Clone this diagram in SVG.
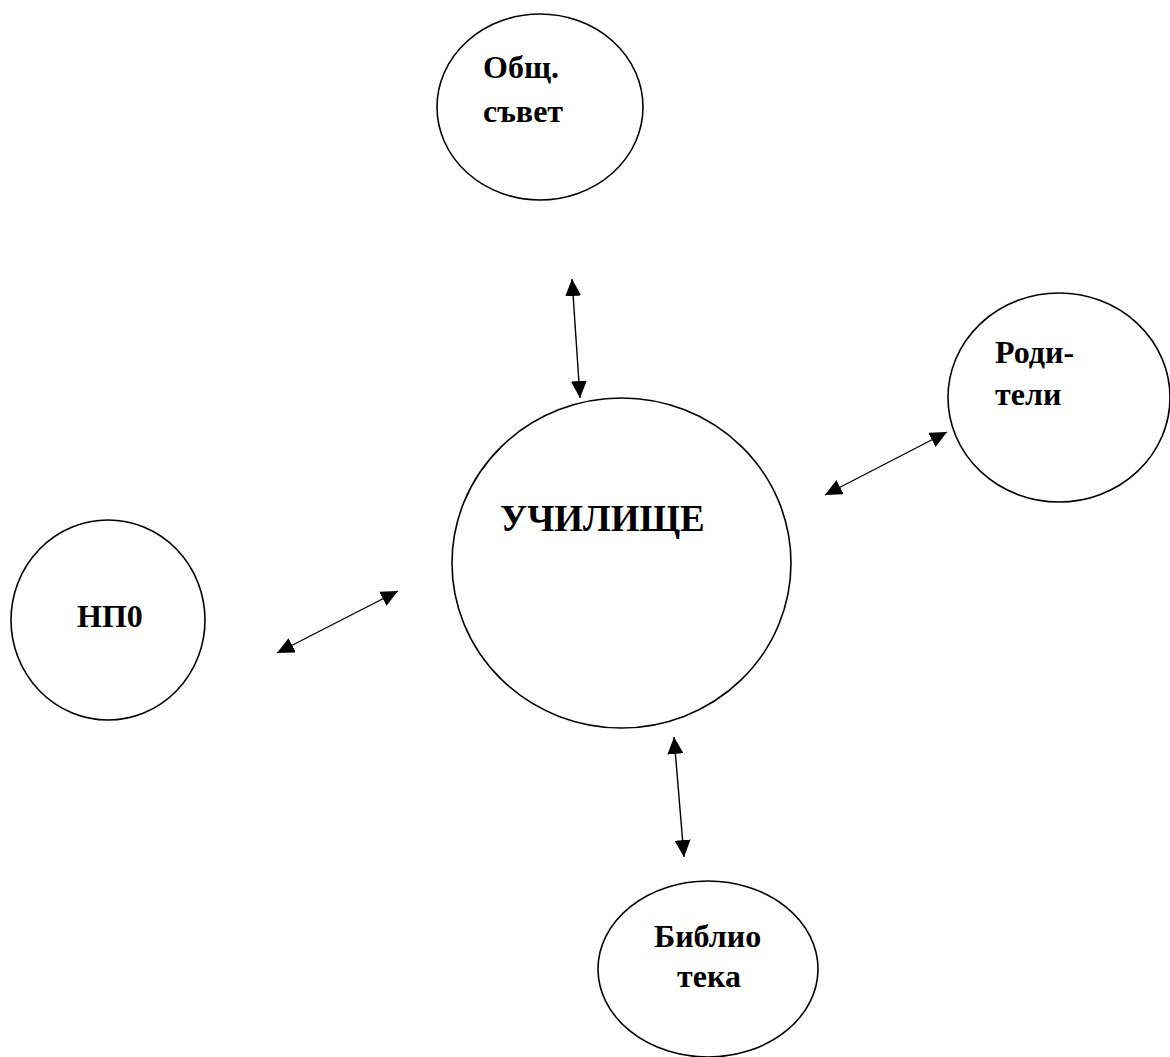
<svg xmlns="http://www.w3.org/2000/svg" width="1170" height="1057" viewBox="0 0 1170 1057">
<style>
.node{fill:#fff;stroke:#000;stroke-width:1.6}
.lbl{font-family:"Liberation Serif","Times New Roman",serif;font-weight:bold;font-size:32px;fill:#000}
.big{font-size:37px}
.conn{stroke:#000;stroke-width:1.4;fill:none;marker-start:url(#ah);marker-end:url(#ah)}
</style>
<defs>
<marker id="ah" markerUnits="userSpaceOnUse" markerWidth="17" markerHeight="16" refX="17" refY="8" orient="auto-start-reverse">
<path d="M0,0 L17,8 L0,16 z" fill="#000"/>
</marker>
</defs>
<rect width="1170" height="1057" fill="#fff"/>
<g id="node-obsht-savet">
<ellipse class="node" cx="540" cy="107" rx="103" ry="93"/>
<text class="lbl" x="483" y="78">Общ.</text>
<text class="lbl" x="483" y="122">съвет</text>
</g>
<g id="node-roditeli">
<ellipse class="node" cx="1059" cy="397.5" rx="111" ry="104.5"/>
<text class="lbl" x="995" y="363">Роди-</text>
<text class="lbl" x="995" y="405">тели</text>
</g>
<g id="node-uchilishte">
<ellipse class="node" cx="621.5" cy="563" rx="169.5" ry="165"/>
<text class="lbl big" x="500" y="531">УЧИЛИЩЕ</text>
</g>
<g id="node-npo">
<ellipse class="node" cx="108" cy="620" rx="97" ry="100"/>
<text class="lbl" x="77" y="627">НП0</text>
</g>
<g id="node-biblioteka">
<ellipse class="node" cx="708" cy="969" rx="110" ry="88"/>
<text class="lbl" x="654" y="947">Библио</text>
<text class="lbl" x="677" y="987">тека</text>
</g>
<g id="connectors">
<line class="conn" x1="572" y1="279" x2="580" y2="398"/>
<line class="conn" x1="947" y1="432" x2="825" y2="495"/>
<line class="conn" x1="398" y1="591" x2="277" y2="653"/>
<line class="conn" x1="674" y1="737" x2="684" y2="857"/>
</g>
</svg>
